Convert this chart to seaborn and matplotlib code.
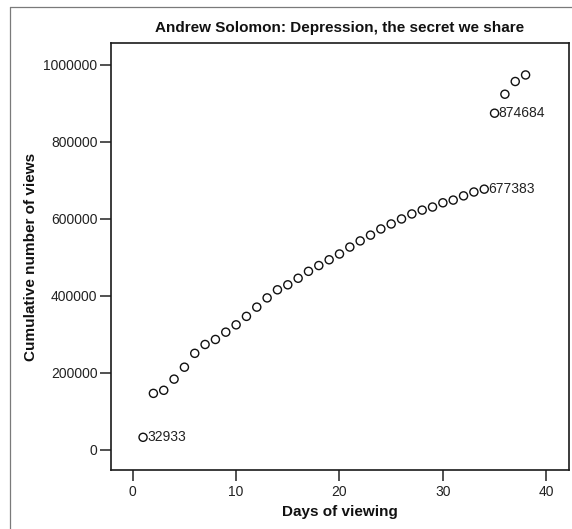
import matplotlib
matplotlib.use("Agg")
import matplotlib.pyplot as plt
from matplotlib.lines import Line2D
import seaborn as sns
import pandas as pd

# Cumulative views per day of viewing
days = list(range(1, 39))
views = [32933, 147000, 155000, 184000, 215000, 251000, 274000, 287000, 306000, 325000,
         347000, 371000, 395000, 416000, 429000, 446000, 464000, 479000, 494000, 509000,
         527000, 543000, 558000, 574000, 587000, 600000, 613000, 623000, 631000, 642000,
         649000, 660000, 670000, 677383, 874684, 924000, 957000, 974000]
labelled_days = [1, 34, 35]

x_ticks = [0, 10, 20, 30, 40]
y_ticks = [0, 200000, 400000, 600000, 800000, 1000000]

title = "Andrew Solomon: Depression, the secret we share"
x_label = "Days of viewing"
y_label = "Cumulative number of views"

sns.set_style("white")
plt.rcParams["font.family"] = ["Liberation Sans", "DejaVu Sans"]

df = pd.DataFrame({"day": days, "views": views})

W, H = 572, 529
fig = plt.figure(figsize=(W / 100, H / 100), dpi=100)
left, right, top, bottom = 110.7, 569, 43, 470
ax = fig.add_axes([left / W, 1 - bottom / H, (right - left) / W, (bottom - top) / H])

sns.scatterplot(data=df, x="day", y="views", ax=ax, marker="o", s=34,
                facecolor="none", edgecolor="#111111", linewidth=1.0, legend=False)

for d, v in zip(days, views):
    if d in labelled_days:
        ax.annotate(str(v), (d, v), xytext=(3.0, 0), textcoords="offset points",
                    va="center", ha="left", fontsize=10, color="#222222")

ax.set_xlim(-2.13, 42.2)
ax.set_ylim(-52000, 1057000)
ax.set_xticks(x_ticks)
ax.set_xticklabels([str(t) for t in x_ticks])
ax.set_yticks(y_ticks)
ax.set_yticklabels([str(t) for t in y_ticks])
ax.tick_params(axis="both", direction="out", length=8, width=1.1, color="#222222",
               labelsize=10, labelcolor="#222222",
               bottom=True, left=True, top=False, right=False)
ax.tick_params(axis="y", pad=1.5)
ax.tick_params(axis="x", pad=3)
for sp in ax.spines.values():
    sp.set_visible(True)
    sp.set_color("#1a1a1a")
    sp.set_linewidth(1.2)
ax.set_xlabel("")
ax.set_ylabel("")
ax.grid(False)

cx = (left + right) / 2 / W
fig.text(cx, 1 - 28 / H, title, ha="center", va="center", fontsize=11,
         fontweight="bold", color="#111111")
fig.text(cx, 1 - 512 / H, x_label, ha="center", va="center", fontsize=11,
         fontweight="bold", color="#111111")
fig.text(31 / W, 1 - (top + bottom) / 2 / H, y_label, ha="center", va="center",
         rotation=90, fontsize=11, fontweight="bold", color="#111111")

# thin grey frame around the chart area
fig.add_artist(Line2D([10 / W, 10 / W], [0, 1 - 7 / H], color="#7a7a7a", linewidth=0.9))
fig.add_artist(Line2D([10 / W, 1], [1 - 7 / H, 1 - 7 / H], color="#7a7a7a", linewidth=0.9))

fig.savefig("out.png", dpi=100)
